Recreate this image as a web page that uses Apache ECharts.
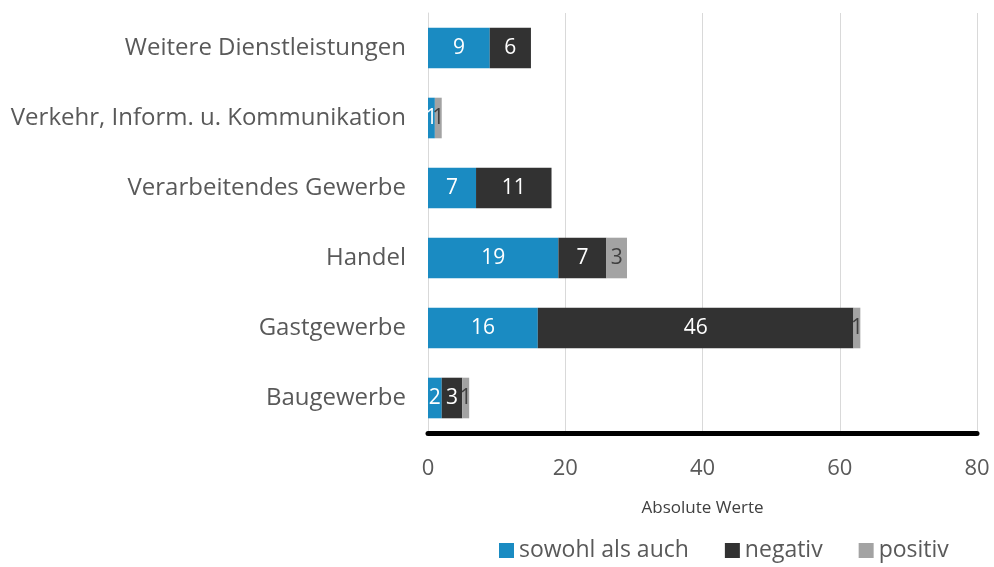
<!DOCTYPE html>
<html>
<head>
<meta charset="utf-8">
<script src="https://cdn.jsdelivr.net/npm/echarts@6/dist/echarts.min.js"></script>
<style>
  html, body { margin: 0; padding: 0; background: #fff; }
  #chart { width: 994px; height: 567px; }
</style>
</head>
<body>
<div id="chart"></div>
<script>
  var categories = ['Weitere Dienstleistungen', 'Verkehr, Inform. u. Kommunikation', 'Verarbeitendes Gewerbe', 'Handel', 'Gastgewerbe', 'Baugewerbe'];
  var sowohl = [9, 1, 7, 19, 16, 2];
  var negativ = [6, 0, 11, 7, 46, 3];
  var positiv = [0, 1, 0, 3, 1, 1];
  var xTicks = [0, 20, 40, 60, 80];

  var fontFamily = '"Open Sans", "Noto Sans", sans-serif';

  function hideZero(p) {
    return p.value ? p.value : '';
  }

  var chart = echarts.init(document.getElementById('chart'));
  chart.setOption({
    animation: false,
    textStyle: {fontFamily: fontFamily},
    grid: {left: 428, right: 17, top: 13, bottom: 134},
    legend: {
      bottom: 0,
      left: 494,
      itemWidth: 15,
      itemHeight: 15,
      itemGap: 36,
      itemTextGap: 6,
      icon: 'rect',
      textStyle: {fontSize: 23, color: '#595959', fontFamily: fontFamily},
      data: ['sowohl als auch', 'negativ', 'positiv']
    },
    xAxis: {
      type: 'value',
      min: xTicks[0],
      max: xTicks[xTicks.length - 1],
      interval: 20,
      name: 'Absolute Werte',
      nameLocation: 'middle',
      nameGap: 67,
      nameTextStyle: {fontSize: 17, color: '#404040'},
      axisLine: {show: true, lineStyle: {color: '#000', width: 5}},
      axisTick: {show: false},
      axisLabel: {fontSize: 22, color: '#595959', margin: 25},
      splitLine: {lineStyle: {color: '#d9d9d9'}}
    },
    yAxis: {
      type: 'category',
      inverse: true,
      data: categories,
      axisLine: {show: true, lineStyle: {color: '#d9d9d9'}},
      axisTick: {show: false},
      axisLabel: {fontSize: 24, color: '#595959', margin: 22}
    },
    series: [
      {
        name: 'sowohl als auch',
        type: 'bar',
        stack: 'total',
        barWidth: '58%',
        data: sowohl,
        itemStyle: {color: '#1a8bc2'},
        label: {show: true, position: 'inside', color: '#fff', fontSize: 21, formatter: hideZero}
      },
      {
        name: 'negativ',
        type: 'bar',
        stack: 'total',
        data: negativ,
        itemStyle: {color: '#323232'},
        label: {show: true, position: 'inside', color: '#fff', fontSize: 21, formatter: hideZero}
      },
      {
        name: 'positiv',
        type: 'bar',
        stack: 'total',
        data: positiv,
        itemStyle: {color: '#a3a3a3'},
        label: {show: true, position: 'inside', color: '#404040', fontSize: 21, formatter: hideZero}
      }
    ]
  });
</script>
</body>
</html>
